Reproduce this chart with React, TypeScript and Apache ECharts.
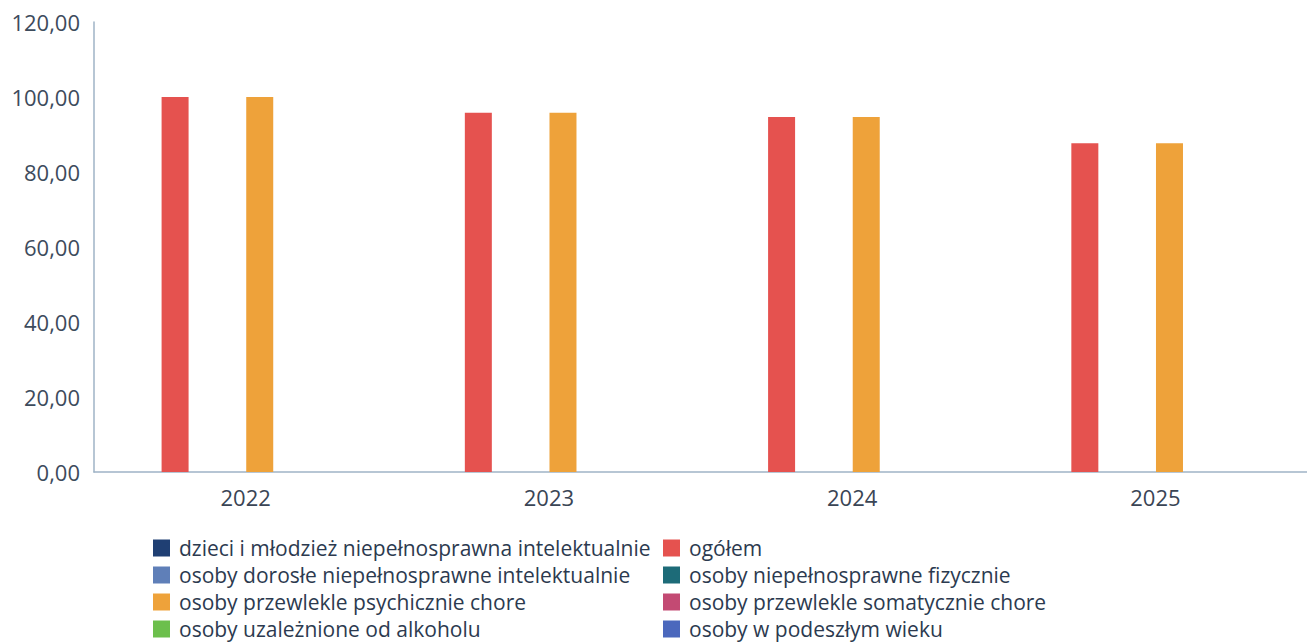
import React, { useEffect, useRef } from "react";
import * as echarts from "echarts";

const years = ["2022", "2023", "2024", "2025"];
const seriesNames = [
  "dzieci i młodzież niepełnosprawna intelektualnie",
  "ogółem",
  "osoby dorosłe niepełnosprawne intelektualnie",
  "osoby niepełnosprawne fizycznie",
  "osoby przewlekle psychicznie chore",
  "osoby przewlekle somatycznie chore",
  "osoby uzależnione od alkoholu",
  "osoby w podeszłym wieku",
];
const seriesColors = [
  "#1f3f73",
  "#e5524f",
  "#5f7fb8",
  "#1d6b78",
  "#eea23a",
  "#c34a73",
  "#6cbf4c",
  "#4b68bd",
];
const ogolemValues = [100.0, 95.8, 94.7, 87.7];
const psychValues = [100.0, 95.8, 94.7, 87.7];
const emptyValues: number[] = [];
const seriesValues = [
  emptyValues,
  ogolemValues,
  emptyValues,
  emptyValues,
  psychValues,
  emptyValues,
  emptyValues,
  emptyValues,
];
const yTicks = { min: 0, max: 120, interval: 20 };

export default function App() {
  const ref = useRef<HTMLDivElement>(null);
  useEffect(() => {
    document.body.style.margin = "0";
    const chart = echarts.init(ref.current!, undefined, { renderer: "svg" });
    const font = "Open Sans";
    const legendText = {
      fontSize: 21,
      lineHeight: 26,
      color: "#2c3a4f",
      fontFamily: font,
      padding: [0, 0, 0, 4],
    };
    const legendBase = {
      orient: "vertical",
      top: 535,
      height: 110,
      padding: 0,
      itemWidth: 17,
      itemHeight: 17,
      itemGap: 1,
      icon: "rect",
      textStyle: legendText,
    };
    chart.setOption({
      animation: false,
      backgroundColor: "#ffffff",
      grid: { left: 94, top: 22, height: 450, width: 1222, containLabel: false },
      xAxis: {
        type: "category",
        data: years,
        axisLine: { show: true, lineStyle: { color: "#9fb3c6", width: 1.5 } },
        axisTick: { show: false },
        axisLabel: { fontSize: 22, color: "#3a4555", margin: 14, fontFamily: font },
        splitLine: { show: false },
      },
      yAxis: {
        type: "value",
        min: yTicks.min,
        max: yTicks.max,
        interval: yTicks.interval,
        axisLine: { show: true, lineStyle: { color: "#9fb3c6", width: 1.5 } },
        axisTick: { show: false },
        splitLine: { show: false },
        axisLabel: {
          fontSize: 22,
          color: "#3d4b5c",
          margin: 14,
          fontFamily: font,
          formatter: (v: number) => v.toFixed(2).replace(".", ","),
        },
      },
      legend: [
        {
          ...legendBase,
          left: 153,
          data: [seriesNames[0], seriesNames[2], seriesNames[4], seriesNames[6]],
        },
        {
          ...legendBase,
          left: 663,
          data: [seriesNames[1], seriesNames[3], seriesNames[5], seriesNames[7]],
        },
      ],
      series: seriesNames.map((name, i) => ({
        name,
        type: "bar",
        data: seriesValues[i],
        barWidth: 27,
        barGap: "4.5%",
        itemStyle: { color: seriesColors[i] },
      })),
    });
    return () => chart.dispose();
  }, []);
  return <div ref={ref} style={{ width: 1307, height: 642 }} />;
}
